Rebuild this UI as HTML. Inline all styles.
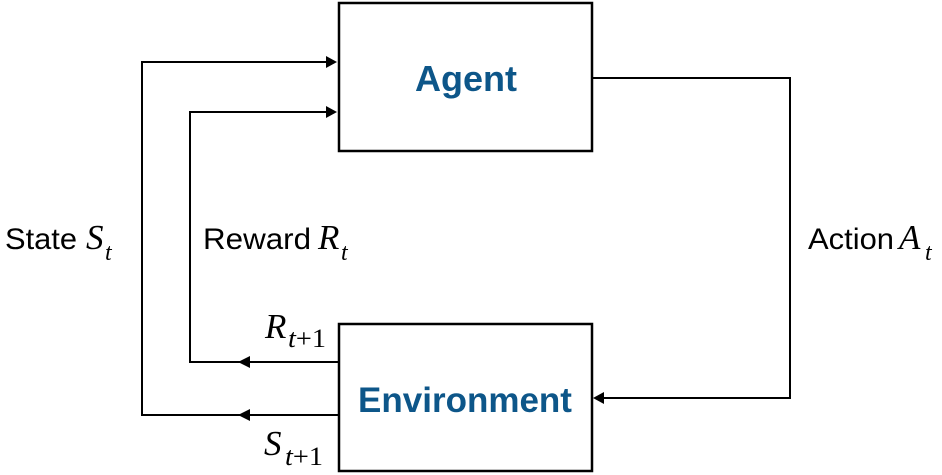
<!DOCTYPE html>
<html><head><meta charset="utf-8"><style>
html,body{margin:0;padding:0;background:#fff;}
svg{display:block;}
</style></head><body>
<svg width="942" height="475" viewBox="0 0 942 475">
<rect x="339" y="3" width="253" height="148" fill="#fff" stroke="#000" stroke-width="2.5"/>
<text x="466" y="91" text-anchor="middle" font-family="Liberation Sans, sans-serif" font-weight="bold" font-size="36" fill="#0d5689">Agent</text>
<rect x="339" y="324" width="253" height="147" fill="#fff" stroke="#000" stroke-width="2.5"/>
<text x="465" y="412" text-anchor="middle" font-family="Liberation Sans, sans-serif" font-weight="bold" font-size="35" fill="#0d5689">Environment</text>
<polyline points="338,415 142,415 142,62 328,62" fill="none" stroke="#000" stroke-width="2"/>
<path d="M337,62 l-11,-6 v12 z" fill="#000"/>
<path d="M238,415 l12,-6 v12 z" fill="#000"/>
<polyline points="338,362 190,362 190,112 328,112" fill="none" stroke="#000" stroke-width="2"/>
<path d="M337,112 l-11,-6 v12 z" fill="#000"/>
<path d="M238,362 l12,-6 v12 z" fill="#000"/>
<polyline points="592,78 790,78 790,398 600,398" fill="none" stroke="#000" stroke-width="2"/>
<path d="M593,398 l11,-6 v12 z" fill="#000"/>
<g>
<text x="5" y="249" font-family="Liberation Sans, sans-serif" font-size="30" textLength="72" lengthAdjust="spacingAndGlyphs">State</text>
<text x="86" y="249" font-family="Liberation Serif, serif" font-style="italic" font-size="35">S</text>
<text x="105" y="260" font-family="Liberation Serif, serif" font-style="italic" font-size="24">t</text></g>
<g>
<text x="203" y="249" font-family="Liberation Sans, sans-serif" font-size="30" textLength="108" lengthAdjust="spacingAndGlyphs">Reward</text>
<text x="318" y="249" font-family="Liberation Serif, serif" font-style="italic" font-size="35">R</text>
<text x="341" y="260" font-family="Liberation Serif, serif" font-style="italic" font-size="24">t</text></g>
<g>
<text x="808" y="249" font-family="Liberation Sans, sans-serif" font-size="30" textLength="86" lengthAdjust="spacingAndGlyphs">Action</text>
<text x="899" y="249" font-family="Liberation Serif, serif" font-style="italic" font-size="35">A</text>
<text x="925" y="260" font-family="Liberation Serif, serif" font-style="italic" font-size="24">t</text></g>
<g>
<text x="265" y="338" font-family="Liberation Serif, serif" font-style="italic" font-size="35">R</text>
<text x="288" y="347" font-family="Liberation Serif, serif" font-size="26" textLength="38" lengthAdjust="spacingAndGlyphs"><tspan font-style="italic">t</tspan>+1</text></g>
<g>
<text x="264" y="455" font-family="Liberation Serif, serif" font-style="italic" font-size="35">S</text>
<text x="285" y="465" font-family="Liberation Serif, serif" font-size="26" textLength="38" lengthAdjust="spacingAndGlyphs"><tspan font-style="italic">t</tspan>+1</text></g>
</svg>
</body></html>
